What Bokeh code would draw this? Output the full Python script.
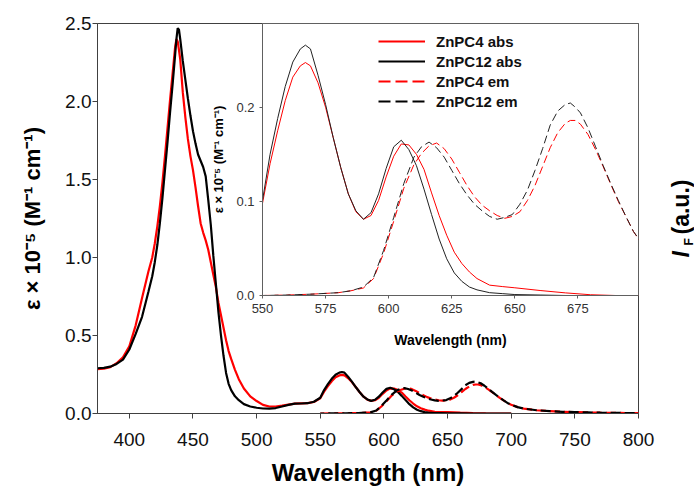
import numpy as np
from bokeh.plotting import figure
from bokeh.models import (ColumnDataSource, Range1d, Label, Legend, LegendItem,
                          GridBox, FixedTicker, NumeralTickFormatter)
from bokeh.embed import file_html
from bokeh.resources import INLINE

# ---------------- data ----------------
abs_wl = [375, 380, 385, 390, 395, 400, 405, 410, 415, 418,
          420, 422, 424, 426, 428, 430, 432, 434, 436, 437,
          438, 439, 440, 442, 444, 446, 448, 450, 452, 454,
          456, 458, 460, 462, 464, 466, 468, 470, 472, 474,
          476, 478, 480, 483, 486, 490, 495, 500, 505, 510,
          515, 520, 525, 530, 535, 540, 545, 550, 553, 556,
          559, 562, 565, 567, 569, 572, 575, 578, 581, 584,
          587, 590, 593, 596, 599, 602, 605, 608, 611, 614,
          617, 620, 623, 626, 629, 632, 635, 640, 645, 650,
          660, 670, 680, 690, 700]
abs_znpc12 = [0.290, 0.292, 0.300, 0.318, 0.345, 0.410, 0.510, 0.620, 0.780, 0.880,
              0.970, 1.080, 1.220, 1.380, 1.560, 1.740, 1.930, 2.110, 2.300, 2.400,
              2.470, 2.460, 2.400, 2.260, 2.140, 2.020, 1.910, 1.810, 1.730, 1.660,
              1.620, 1.580, 1.520, 1.370, 1.210, 1.010, 0.830, 0.650, 0.500, 0.370,
              0.260, 0.190, 0.150, 0.110, 0.085, 0.060, 0.045, 0.037, 0.032, 0.031,
              0.035, 0.045, 0.055, 0.063, 0.064, 0.066, 0.075, 0.101, 0.150, 0.188,
              0.222, 0.248, 0.262, 0.266, 0.262, 0.234, 0.203, 0.168, 0.136, 0.108,
              0.090, 0.081, 0.088, 0.108, 0.135, 0.158, 0.165, 0.155, 0.138, 0.113,
              0.086, 0.060, 0.039, 0.024, 0.015, 0.009, 0.006, 0.003, 0.002, 0.001,
              0.0005, 0.0, 0.0, 0.0, 0.0]
abs_znpc4 = [0.285, 0.287, 0.297, 0.322, 0.360, 0.430, 0.565, 0.740, 0.910, 1.000,
             1.090, 1.200, 1.330, 1.480, 1.650, 1.830, 2.010, 2.180, 2.350, 2.400,
             2.385, 2.330, 2.270, 2.060, 1.900, 1.760, 1.650, 1.560, 1.450, 1.330,
             1.220, 1.160, 1.110, 1.050, 0.970, 0.890, 0.810, 0.710, 0.630, 0.550,
             0.470, 0.400, 0.350, 0.280, 0.220, 0.160, 0.110, 0.080, 0.055, 0.045,
             0.045, 0.050, 0.057, 0.063, 0.065, 0.066, 0.074, 0.098, 0.140, 0.175,
             0.207, 0.232, 0.244, 0.2475, 0.244, 0.226, 0.200, 0.168, 0.136, 0.108,
             0.089, 0.081, 0.085, 0.101, 0.126, 0.148, 0.161, 0.160, 0.150, 0.134,
             0.109, 0.085, 0.064, 0.046, 0.034, 0.025, 0.018, 0.011, 0.0095, 0.0082,
             0.0053, 0.0028, 0.0008, 0.0, 0.0]

em_wl = [550, 560, 570, 580, 585, 590, 594, 598, 602, 606,
         610, 613, 616, 619, 622, 625, 628, 631, 634, 637,
         640, 643, 646, 649, 652, 655, 658, 661, 664, 667,
         670, 672, 674, 676, 679, 682, 685, 688, 691, 694,
         697, 700, 705, 710, 720, 730, 740, 750, 760, 770,
         780, 790, 800]
em_znpc12 = [0.000, 0.0005, 0.0015, 0.003, 0.005, 0.009, 0.019, 0.048, 0.083, 0.119,
             0.147, 0.158, 0.163, 0.157, 0.147, 0.133, 0.119, 0.107, 0.097, 0.090,
             0.084, 0.081, 0.083, 0.086, 0.097, 0.112, 0.133, 0.156, 0.181, 0.196,
             0.203, 0.2045, 0.200, 0.194, 0.178, 0.158, 0.138, 0.119, 0.101, 0.084,
             0.068, 0.057, 0.041, 0.031, 0.021, 0.015, 0.011, 0.009, 0.007, 0.005,
             0.004, 0.003, 0.002]
em_znpc4 = [0.000, 0.0005, 0.0015, 0.003, 0.005, 0.008, 0.018, 0.045, 0.079, 0.114,
            0.139, 0.151, 0.159, 0.162, 0.156, 0.145, 0.131, 0.117, 0.105, 0.096,
            0.090, 0.085, 0.082, 0.084, 0.089, 0.101, 0.117, 0.137, 0.157, 0.173,
            0.183, 0.186, 0.186, 0.182, 0.171, 0.155, 0.137, 0.118, 0.100, 0.084,
            0.068, 0.056, 0.041, 0.031, 0.021, 0.015, 0.011, 0.009, 0.007, 0.005,
            0.004, 0.003, 0.002]

main_xticks = [400, 450, 500, 550, 600, 650, 700, 750, 800]
main_yticks = [0.0, 0.5, 1.0, 1.5, 2.0, 2.5]
inset_xticks = [550, 575, 600, 625, 650, 675]
inset_yticks = [0.0, 0.1, 0.2]
series_names = ["ZnPC4 abs", "ZnPC12 abs", "ZnPC4 em", "ZnPC12 em"]

FONT = "Liberation Sans"
RED = "#ff0000"
BLACK = "#000000"
W, H = 694, 490

abs_src = ColumnDataSource(dict(wl=abs_wl, a4=abs_znpc4, a12=abs_znpc12))
em_src = ColumnDataSource(dict(wl=em_wl, e4=em_znpc4, e12=em_znpc12))

# ---------------- main figure ----------------
p = figure(width=W, height=H, output_backend="svg", toolbar_location=None,
           x_range=Range1d(375, 800), y_range=Range1d(0, 2.5),
           min_border_left=97, min_border_right=56, min_border_top=23,
           min_border_bottom=77, frame_align=False)
p.background_fill_color = "white"
p.border_fill_color = "white"
p.outline_line_color = "#404040"
p.outline_line_width = 1
p.grid.visible = False

p.line("wl", "a4", source=abs_src, color=RED, line_width=2.2)
p.line("wl", "a12", source=abs_src, color=BLACK, line_width=2.2)
p.line("wl", "e4", source=em_src, color=RED, line_width=2.2, line_dash="10 4")
p.line("wl", "e12", source=em_src, color=BLACK, line_width=2.2, line_dash="10 4",
       line_dash_offset=6)

p.xaxis.ticker = FixedTicker(ticks=main_xticks)
p.yaxis.ticker = FixedTicker(ticks=main_yticks)
p.yaxis.formatter = NumeralTickFormatter(format="0.0")
for ax in (p.xaxis[0], p.yaxis[0]):
    ax.axis_line_color = "#404040"
    ax.major_tick_line_color = "#404040"
    ax.major_tick_out = 5
    ax.major_tick_in = 0
    ax.minor_tick_line_color = None
    ax.major_label_text_font = FONT
    ax.major_label_text_font_size = "19px"
    ax.major_label_text_color = "#111111"
    ax.axis_label_text_font = FONT
    ax.axis_label_text_font_style = "bold"
    ax.axis_label_text_color = "#000000"
p.xaxis.axis_label = "Wavelength (nm)"
p.xaxis.axis_label_text_font_size = "24px"
p.xaxis.major_label_standoff = 14
p.xaxis.axis_label_standoff = 10
p.yaxis.axis_label = "ε × 10⁻⁵ (M⁻¹ cm⁻¹)"
p.yaxis.axis_label_text_font_size = "22px"
p.yaxis.major_label_standoff = 1
p.yaxis.axis_label_standoff = 17

# ---------------- inset (same canvas size, frame placed by borders) ----------------
inset = figure(width=W, height=H, output_backend="svg", toolbar_location=None,
               x_range=Range1d(550, 699), y_range=Range1d(0, 0.289),
               min_border_left=262, min_border_right=56, min_border_top=23,
               min_border_bottom=195, frame_align=False)
inset.background_fill_color = "white"
inset.border_fill_alpha = 0
inset.outline_line_color = "#606060"
inset.outline_line_width = 1
inset.grid.visible = False

inset.line("wl", "a4", source=abs_src, color=RED, line_width=1)
inset.line("wl", "a12", source=abs_src, color="#222222", line_width=1)
inset.line("wl", "e4", source=em_src, color=RED, line_width=1, line_dash="8 4")
inset.line("wl", "e12", source=em_src, color="#222222", line_width=1, line_dash="8 4",
           line_dash_offset=4)

inset.xaxis.ticker = FixedTicker(ticks=inset_xticks)
inset.yaxis.ticker = FixedTicker(ticks=inset_yticks)
inset.yaxis.formatter = NumeralTickFormatter(format="0.0")
for ax in (inset.xaxis[0], inset.yaxis[0]):
    ax.axis_line_color = "#606060"
    ax.major_tick_line_color = "#606060"
    ax.major_tick_out = 3
    ax.major_tick_in = 0
    ax.minor_tick_line_color = None
    ax.major_label_text_font = FONT
    ax.major_label_text_font_size = "13px"
    ax.major_label_text_color = "#333333"
    ax.axis_label_text_font = FONT
    ax.axis_label_text_font_style = "bold"
    ax.axis_label_text_font_size = "14px"
    ax.axis_label_text_color = "#000000"
inset.xaxis.axis_label = "Wavelength (nm)"
inset.xaxis.major_label_standoff = 5
inset.xaxis.axis_label_standoff = 16
inset.yaxis.axis_label = "ε × 10⁻⁵ (M⁻¹ cm⁻¹)"
inset.yaxis.axis_label_text_font_size = "13px"
inset.yaxis.major_label_standoff = 5
inset.yaxis.axis_label_standoff = 7

# legend (legend-only renderers with thicker strokes; their single point is NaN)
leg_src = ColumnDataSource(dict(x=[float("nan")], y=[float("nan")]))
leg_styles = [(RED, "solid"), (BLACK, "solid"), (RED, "12 5"), (BLACK, "12 5")]
items = []
for name, (col, dash) in zip(series_names, leg_styles):
    r = inset.line("x", "y", source=leg_src, color=col, line_width=2, line_dash=dash)
    items.append(LegendItem(label=name, renderers=[r]))
legend = Legend(items=items, location=(116, 184), padding=0, margin=0, spacing=0,
                glyph_width=47, glyph_height=20, label_height=20, label_standoff=11,
                label_text_font=FONT, label_text_font_size="15px",
                label_text_font_style="bold", label_text_color="#111111",
                border_line_color=None, background_fill_alpha=0)
inset.add_layout(legend)

# ---------------- right-hand axis title  I_F (a.u.) ----------------
lab = figure(width=W, height=H, output_backend="svg", toolbar_location=None,
             x_axis_type=None, y_axis_type=None,
             x_range=Range1d(650, 694), y_range=Range1d(300, 150),
             min_border_left=650, min_border_right=0, min_border_top=150,
             min_border_bottom=190, frame_align=False)
lab.background_fill_alpha = 0
lab.border_fill_alpha = 0
lab.outline_line_color = None
lab.grid.visible = False
for txt, x, y, size, style in [("I", 680, 257, "23px", "bold italic"),
                               ("F", 688, 245, "12px", "bold"),
                               ("(a.u.)", 680, 234, "23px", "bold")]:
    lab.add_layout(Label(x=x, y=y, text=txt, angle=np.pi / 2, text_font=FONT,
                         text_font_size=size, text_font_style=style,
                         text_align="left", text_baseline="middle",
                         text_color="#000000"))

layout = GridBox(children=[(p, 0, 0), (inset, 0, 0), (lab, 0, 0)])

open("out.html", "w").write(file_html(layout, INLINE))
